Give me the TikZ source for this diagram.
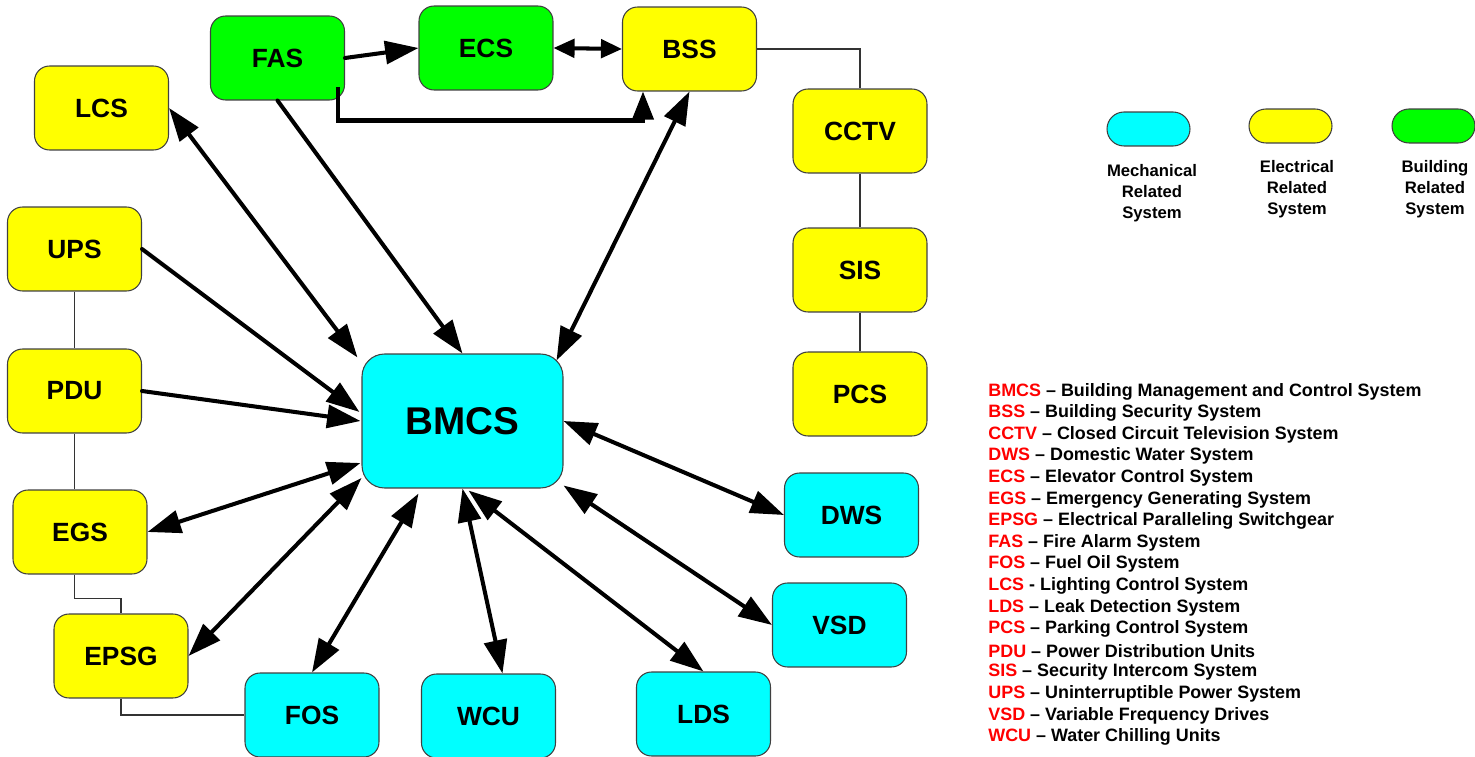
\documentclass[tikz,border=0pt]{standalone}
\usepackage{fontspec}
\setmainfont{Liberation Sans}
\usetikzlibrary{arrows.meta}

\definecolor{mechcol}{RGB}{0,255,255}
\definecolor{eleccol}{RGB}{255,255,0}
\definecolor{bldgcol}{RGB}{0,255,0}
\definecolor{keyred}{RGB}{255,0,0}

\begin{document}
\begin{tikzpicture}[x=0.02cm,y=-0.02cm,
	sys/.style={draw=black!75,line width=0.6pt,rounded corners=0.3cm,minimum width=2.68cm,minimum height=1.68cm,inner sep=0pt,font=\fontsize{15}{18}\selectfont\bfseries},
	mech/.style={sys,fill=mechcol},
	elec/.style={sys,fill=eleccol},
	bldg/.style={sys,fill=bldgcol},
	link/.style={line width=2.3pt,line cap=round,-{Triangle[length=19pt,width=13pt]}},
	dlink/.style={line width=2.3pt,line cap=round,{Triangle[length=19pt,width=13pt]}-{Triangle[length=19pt,width=13pt]}},
	wire/.style={draw=black!80,line width=0.6pt},
	pill/.style={draw=black!75,line width=0.6pt,rounded corners=0.34cm,minimum width=1.66cm,minimum height=0.68cm},
	keytext/.style={align=center,font=\fontsize{9.5}{12}\selectfont\bfseries}]

	\useasboundingbox (0,0) rectangle (1475,757);

	% systems
	\node[bldg] (FAS) at (277.5,58) {FAS};
	\node[bldg] (ECS) at (486,48) {ECS};
	\node[elec] (BSS) at (689.5,49) {BSS};
	\node[elec] (LCS) at (101.5,108) {LCS};
	\node[elec] (CCTV) at (860,131) {CCTV};
	\node[elec] (UPS) at (74.5,249) {UPS};
	\node[elec] (SIS) at (860,270) {SIS};
	\node[elec] (PDU) at (74.5,391) {PDU};
	\node[elec] (PCS) at (860,394) {PCS};
	\node[elec] (EGS) at (80,532) {EGS};
	\node[elec] (EPSG) at (121,656) {EPSG};
	\node[mech] (DWS) at (851.5,515) {DWS};
	\node[mech] (VSD) at (839.5,625) {VSD};
	\node[mech] (FOS) at (312,715) {FOS};
	\node[mech] (WCU) at (488.5,716) {WCU};
	\node[mech] (LDS) at (703.5,714) {LDS};
	\node[mech,minimum width=4.02cm,minimum height=2.68cm,rounded corners=0.45cm,font=\fontsize{22}{26}\selectfont\bfseries] (BMCS) at (462.5,421) {BMCS};

	% thin links
	\draw[wire] (BSS.east) -| (CCTV.north);
	\draw[wire] (CCTV.south) -- (SIS.north);
	\draw[wire] (SIS.south) -- (PCS.north);
	\draw[wire] (UPS.south) -- (PDU.north);
	\draw[wire] (PDU.south) -- (PDU.south |- EGS.north);
	\draw[wire] (EGS.south -| PDU.south) -- ++(0,24) -| (EPSG.north);
	\draw[wire] (EPSG.south) |- (FOS.west);

	% arrows
	\draw[link] (FAS.east) -- (ECS.west);
	\draw[line width=2.3pt,{Triangle[length=12pt,width=10.5pt]}-{Triangle[length=12pt,width=10.5pt]}] (ECS.east) -- (BSS.west);
	\draw[line width=2.3pt] ([shift={(-7,29)}]FAS.east) |- ([shift={(-44.5,29)}]BSS.south);
	\draw[line width=2.3pt,-{Triangle[length=16pt,width=12pt]}] ([shift={(-46.5,29)}]BSS.south) -- ([shift={(-46.5,0)}]BSS.south);
	\draw[link] (FAS.south) -- (BMCS.north);
	\draw[dlink] (LCS.east) -- ([shift={(-4,4)}]BMCS.north west);
	\draw[dlink] (BSS.south) -- ([shift={(-7,7)}]BMCS.north east);
	\draw[link] (UPS.east) -- ([shift={(-2,-9)}]BMCS.west);
	\draw[link] (PDU.east) -- ([shift={(-1,0)}]BMCS.west);
	\draw[dlink] (EGS.east) -- ([shift={(-1,42)}]BMCS.west);
	\draw[dlink] (EPSG.east) -- ([shift={(0,57)}]BMCS.west);
	\draw[dlink] (FOS.north) -- ([shift={(-44,5)}]BMCS.south);
	\draw[dlink] ([shift={(14,0)}]WCU.north) -- (BMCS.south);
	\draw[dlink] (LDS.north) -- ([shift={(6,2)}]BMCS.south);
	\draw[dlink] (VSD.west) -- ([shift={(0,-3)}]BMCS.south east);
	\draw[dlink] (DWS.west) -- (BMCS.east);

	% colour key
	\node[pill,fill=mechcol] (kmech) at (1148.5,129) {};
	\node[pill,fill=eleccol] (kelec) at (1290.5,126) {};
	\node[pill,fill=bldgcol] (kbldg) at (1433.5,126) {};
	\node[keytext] (tmech) at (1152,193) {Mechanical\\Related\\System};
	\node[keytext] (telec) at (1297,189) {Electrical\\Related\\System};
	\node[keytext] (tbldg) at (1435,189) {Building\\Related\\System};

	% abbreviations
	\foreach \ab/\txt [count=\i] in {
		BMCS/-- Building Management and Control System,
		BSS/-- Building Security System,
		CCTV/-- Closed Circuit Television System,
		DWS/-- Domestic Water System,
		ECS/-- Elevator Control System,
		EGS/-- Emergency Generating System,
		EPSG/-- Electrical Paralleling Switchgear,
		FAS/-- Fire Alarm System,
		FOS/-- Fuel Oil System,
		LCS/- Lighting Control System,
		LDS/-- Leak Detection System,
		PCS/-- Parking Control System,
		PDU/-- Power Distribution Units,
		SIS/-- Security Intercom System,
		UPS/-- Uninterruptible Power System,
		VSD/-- Variable Frequency Drives,
		WCU/-- Water Chilling Units}
		\node[anchor=west,inner sep=0pt,font=\fontsize{10.2}{12}\selectfont\bfseries] (key\i) at (988,{391.5+21.6*(\i-1)}) {\textcolor{keyred}{\ab} \txt};
\end{tikzpicture}
\end{document}
